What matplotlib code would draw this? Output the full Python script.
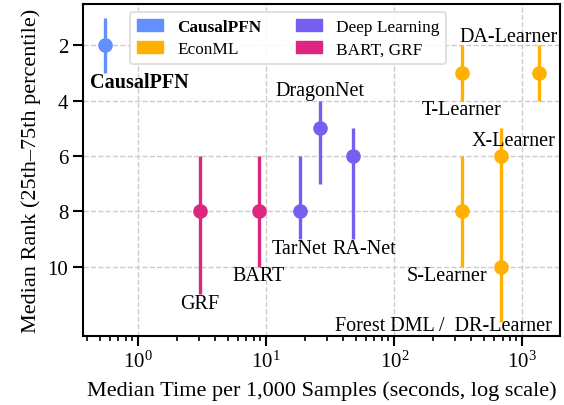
import matplotlib
matplotlib.use('Agg')
import matplotlib.pyplot as plt
from matplotlib.patches import Patch

plt.rcParams['font.family'] = ['Liberation Serif', 'DejaVu Serif']
plt.rcParams['mathtext.fontset'] = 'custom'
plt.rcParams['mathtext.rm'] = 'Liberation Serif'

# data
methods = ['CausalPFN', 'GRF', 'BART', 'TarNet', 'DragonNet', 'RA-Net',
           'T-Learner', 'DA-Learner', 'X-Learner', 'S-Learner', 'Forest DML /  DR-Learner']
groups = ['CausalPFN', 'BART, GRF', 'BART, GRF', 'Deep Learning', 'Deep Learning', 'Deep Learning',
          'EconML', 'EconML', 'EconML', 'EconML', 'EconML']
times = [0.55, 3.03, 8.7, 18.2, 26.3, 47.3, 336, 1350, 677, 336, 677]
med_rank = [2, 8, 8, 8, 5, 6, 3, 3, 6, 8, 10]
q25 = [1, 6, 6, 6, 4, 5, 2, 2, 5, 6, 8]
q75 = [3, 11, 10, 9, 7, 9, 4, 4, 9, 10, 12]

colors = {'CausalPFN': '#648FFF', 'EconML': '#FFB000',
          'Deep Learning': '#785EF0', 'BART, GRF': '#DC267F'}
legend_order = ['CausalPFN', 'EconML', 'Deep Learning', 'BART, GRF']

# label offsets from the median point, in pixels (right, down)
label_off = {'CausalPFN': (34, 37), 'GRF': (0, 92), 'BART': (0, 64), 'TarNet': (0, 37),
             'DragonNet': (0, -38), 'RA-Net': (12, 92), 'T-Learner': (0, 36),
             'DA-Learner': (-30, -37), 'X-Learner': (13, -16), 'S-Learner': (-15, 64),
             'Forest DML /  DR-Learner': (-57, 59)}

fig = plt.figure(figsize=(5.64, 4.06), dpi=100)
ax = fig.add_axes([0.147, 0.170, 0.846, 0.818])

for m, g, t, r, lo, hi in zip(methods, groups, times, med_rank, q25, q75):
    c = colors[g]
    ax.plot([t, t], [lo, hi], color=c, lw=2.4, solid_capstyle='butt', zorder=3)
    ax.plot(t, r, 'o', color=c, ms=9.5, zorder=4)
    dx, dy = label_off[m]
    ax.annotate(m, (t, r), xytext=(dx * 0.72, -dy * 0.72), textcoords='offset points',
                ha='center', va='center', fontsize=14.5,
                fontweight='bold' if m == 'CausalPFN' else 'normal', zorder=5)

ax.set_xscale('log')
ax.set_xlim(0.37, 1970)
ax.set_ylim(12.5, 0.5)
ax.set_yticks([2, 4, 6, 8, 10])
ax.grid(True, which='major', ls='--', color='#cccccc', lw=1, zorder=0)
ax.set_axisbelow(True)

ax.set_xlabel('Median Time per 1,000 Samples (seconds, log scale)', fontsize=16, labelpad=6)
ax.set_ylabel('Median Rank (25th–75th percentile)', fontsize=16, labelpad=5)
ax.tick_params(axis='both', which='major', labelsize=15, length=7, width=1.5, direction='out')
ax.tick_params(axis='x', which='minor', length=3.5, width=1.2)
for s in ax.spines.values():
    s.set_linewidth(1.5)

handles = [Patch(color=colors[k], label=k) for k in legend_order]
leg = ax.legend(handles=handles, ncol=2, loc='upper left', bbox_to_anchor=(0.098, 0.975),
                borderaxespad=0, fontsize=12.4, frameon=True, framealpha=0.9,
                edgecolor='#dddddd', handlelength=1.55, handleheight=0.7,
                handletextpad=0.8, columnspacing=2.0, labelspacing=0.35)
leg.get_frame().set_linewidth(1.5)
leg.get_texts()[0].set_fontweight('bold')

fig.savefig('out.png', dpi=100)
